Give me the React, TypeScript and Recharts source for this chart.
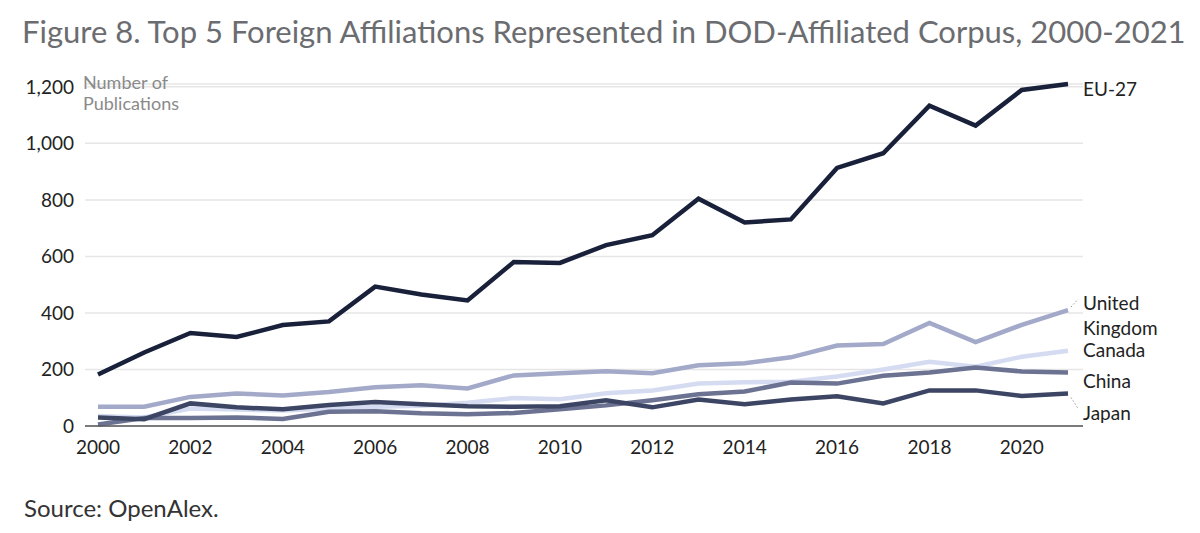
import { CartesianGrid, Line, LineChart, XAxis, YAxis } from "recharts";

const years = [
  2000, 2001, 2002, 2003, 2004, 2005, 2006, 2007, 2008, 2009, 2010, 2011,
  2012, 2013, 2014, 2015, 2016, 2017, 2018, 2019, 2020, 2021,
];
const eu27 = [
  182, 260, 329, 315, 357, 370, 493, 465, 444, 580, 577, 640, 675, 804, 720,
  731, 913, 965, 1133, 1063, 1189, 1210,
];
const unitedKingdom = [
  68, 68, 103, 115, 108, 120, 137, 144, 133, 179, 187, 194, 187, 215, 222, 243,
  285, 290, 365, 297, 358, 410,
];
const canada = [
  35, 30, 62, 58, 55, 62, 68, 72, 82, 99, 95, 116, 126, 150, 155, 157, 175,
  200, 227, 210, 245, 266,
];
const china = [
  5, 28, 28, 30, 25, 50, 52, 45, 42, 46, 59, 73, 91, 112, 122, 154, 150, 178,
  189, 207, 193, 189,
];
const japan = [
  30, 24, 80, 66, 59, 74, 85, 77, 70, 68, 70, 91, 66, 94, 77, 94, 105, 80, 126,
  126, 106, 115,
];
const xTicks = [2000, 2002, 2004, 2006, 2008, 2010, 2012, 2014, 2016, 2018, 2020];
const yTicks = [0, 200, 400, 600, 800, 1000, 1200];

const data = years.map((year, i) => ({
  year,
  eu27: eu27[i],
  uk: unitedKingdom[i],
  canada: canada[i],
  china: china[i],
  japan: japan[i],
}));

const FONT = "Lato, 'Noto Sans', sans-serif";

type SeriesConfig = {
  key: string;
  color: string;
  lines: string[];
  dy: number;
  leader?: [number, number, number, number];
};

// drawn in this order, lightest first
const series: SeriesConfig[] = [
  { key: "canada", color: "#d5dcf1", lines: ["Canada"], dy: 6 },
  {
    key: "uk",
    color: "#a3a9c9",
    lines: ["United", "Kingdom"],
    dy: 0,
    leader: [3, -3, 10, -11],
  },
  { key: "china", color: "#6c7291", lines: ["China"], dy: 15 },
  {
    key: "japan",
    color: "#3c4563",
    lines: ["Japan"],
    dy: 27,
    leader: [3, 4, 10, 15],
  },
  { key: "eu27", color: "#18203a", lines: ["EU-27"], dy: 12 },
];

function endLabel(cfg: SeriesConfig) {
  return (props: any) => {
    const { x, y, index } = props;
    if (index !== years.length - 1) return null;
    return (
      <g key={`lbl-${cfg.key}`}>
        {cfg.leader && (
          <line
            x1={x + cfg.leader[0]}
            y1={y + cfg.leader[1]}
            x2={x + cfg.leader[2]}
            y2={y + cfg.leader[3]}
            stroke="#999"
            strokeWidth={1}
            strokeDasharray="1.5 2"
          />
        )}
        {cfg.lines.map((t, j) => (
          <text
            key={t}
            x={x + 15}
            y={y + cfg.dy + j * 25}
            fontSize={19}
            fontFamily={FONT}
            fill="#222"
          >
            {t}
          </text>
        ))}
      </g>
    );
  };
}

export default function App() {
  return (
    <div
      style={{
        position: "absolute",
        left: 0,
        top: 0,
        width: 1200,
        height: 533,
        background: "#fff",
        fontFamily: FONT,
      }}
    >
      <LineChart
        width={1200}
        height={533}
        data={data}
        margin={{ top: 84, right: 117, bottom: 77, left: 25 }}
      >
        <CartesianGrid vertical={false} stroke="#e6e6e6" strokeWidth={1.5} />
        <XAxis
          dataKey="year"
          type="number"
          domain={[2000, 2021]}
          ticks={xTicks}
          padding={{ left: 13, right: 15 }}
          height={30}
          tickLine={false}
          tickMargin={9}
          axisLine={{ stroke: "#555", strokeWidth: 1.5 }}
          tick={{ fontSize: 19, fill: "#222", fontFamily: FONT }}
        />
        <YAxis
          domain={[0, 1200]}
          ticks={yTicks}
          width={60}
          axisLine={false}
          tickLine={false}
          tickMargin={5}
          tickFormatter={(v) => v.toLocaleString("en-US")}
          tick={{ fontSize: 19, fill: "#222", fontFamily: FONT }}
        />
        {series.map((s) => (
          <Line
            key={s.key}
            dataKey={s.key}
            stroke={s.color}
            strokeWidth={4.5}
            dot={false}
            isAnimationActive={false}
            label={endLabel(s)}
          />
        ))}
      </LineChart>
      <svg
        width={1200}
        height={533}
        style={{ position: "absolute", left: 0, top: 0, pointerEvents: "none" }}
      >
        <text x={22} y={43} fontSize={31} fill="#6b6c70" fontFamily={FONT}>
          Figure 8. Top 5 Foreign Affiliations Represented in DOD-Affiliated
          Corpus, 2000-2021
        </text>
        <text x={83} y={89} fontSize={18} fill="#8a8a8a" fontFamily={FONT}>
          Number of
        </text>
        <text x={83} y={110} fontSize={18} fill="#8a8a8a" fontFamily={FONT}>
          Publications
        </text>
        <text x={24} y={517} fontSize={24} fill="#333" fontFamily={FONT}>
          Source: OpenAlex.
        </text>
      </svg>
    </div>
  );
}
